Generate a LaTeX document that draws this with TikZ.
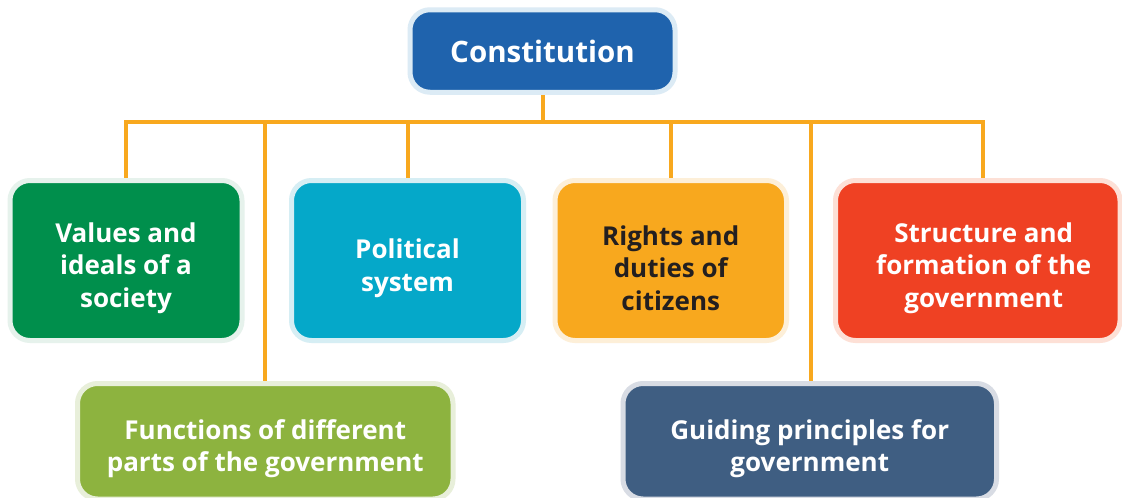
\documentclass[tikz,border=0pt]{standalone}
\usepackage{fontspec}
\setmainfont{Open Sans}
\usetikzlibrary{backgrounds}
\definecolor{cConst}{HTML}{1F63AD}\definecolor{bConst}{HTML}{DCEBF5}
\definecolor{cGreen}{HTML}{008F4C}\definecolor{bGreen}{HTML}{E6F2EC}
\definecolor{cBlue}{HTML}{05A8C9}\definecolor{bBlue}{HTML}{D6EEF4}
\definecolor{cOrange}{HTML}{F8A81E}\definecolor{bOrange}{HTML}{FDEFD8}
\definecolor{cRed}{HTML}{EF4123}\definecolor{bRed}{HTML}{FDE0D6}
\definecolor{cLime}{HTML}{8DB33F}\definecolor{bLime}{HTML}{E8EFDA}
\definecolor{cNavy}{HTML}{3F5E82}\definecolor{bNavy}{HTML}{D8DCE4}
\definecolor{cLine}{HTML}{F8A81E}
\definecolor{cDark}{HTML}{231F20}
\newcommand{\dnstrut}{\rule{0pt}{35pt}}
\begin{document}
\begin{tikzpicture}[x=1pt,y=-1pt,
  box/.style={rounded corners=20pt, line width=5pt, align=center, inner sep=0pt,
    font=\fontsize{26}{32.5}\selectfont\bfseries, text=white},
  conn/.style={draw=cLine, line width=4pt, line join=miter}]
\useasboundingbox (0,0) rectangle (1122,498);
\clip (0,0) rectangle (1122,498);
\node[box, fill=cConst, draw=bConst, minimum width=265pt, minimum height=82.5pt,
  font=\fontsize{29.5}{34}\selectfont\bfseries] (const) at (542.5,51) {Constitution};
\node[box, fill=cGreen, draw=bGreen, minimum width=232pt, minimum height=160pt] (values) at (126,260.5) {\dnstrut Values and\\ideals of a\\society};
\node[box, fill=cBlue, draw=bBlue, minimum width=232pt, minimum height=160pt] (polit) at (407.5,260.5) {\dnstrut Political\\system};
\node[box, fill=cOrange, draw=bOrange, minimum width=231.5pt, minimum height=160pt, text=cDark] (rights) at (670.75,260.5) {\dnstrut Rights and\\duties of\\citizens};
\node[box, fill=cRed, draw=bRed, minimum width=284.5pt, minimum height=160pt] (struct) at (977.75,260.5) {\hspace*{12pt}\dnstrut Structure and\\\hspace*{12pt}formation of the\\\hspace*{12pt}government};
\node[box, fill=cLime, draw=bLime, minimum width=375.5pt, minimum height=115.5pt] (func) at (265.25,441.25) {\dnstrut Functions of different\\parts of the government};
\node[box, fill=cNavy, draw=bNavy, minimum width=373.5pt, minimum height=115.5pt] (guide) at (809.75,441.25) {\dnstrut Guiding principles for\\government};
\coordinate (bus) at (542.5,122);
\begin{scope}[on background layer]
\fill[white] (0,0) rectangle (1122,498);
\draw[conn] (const.south) -- (bus);
\draw[conn] (values.north) |- (bus) -| ([xshift=5.25pt]struct.north);
\draw[conn] (func.north) -- (func.north |- bus);
\draw[conn] (polit.north) -- (polit.north |- bus);
\draw[conn] (rights.north) -- (rights.north |- bus);
\draw[conn] ([xshift=1.25pt]guide.north) -- ([xshift=1.25pt]guide.north |- bus);
\end{scope}
\end{tikzpicture}
\end{document}
